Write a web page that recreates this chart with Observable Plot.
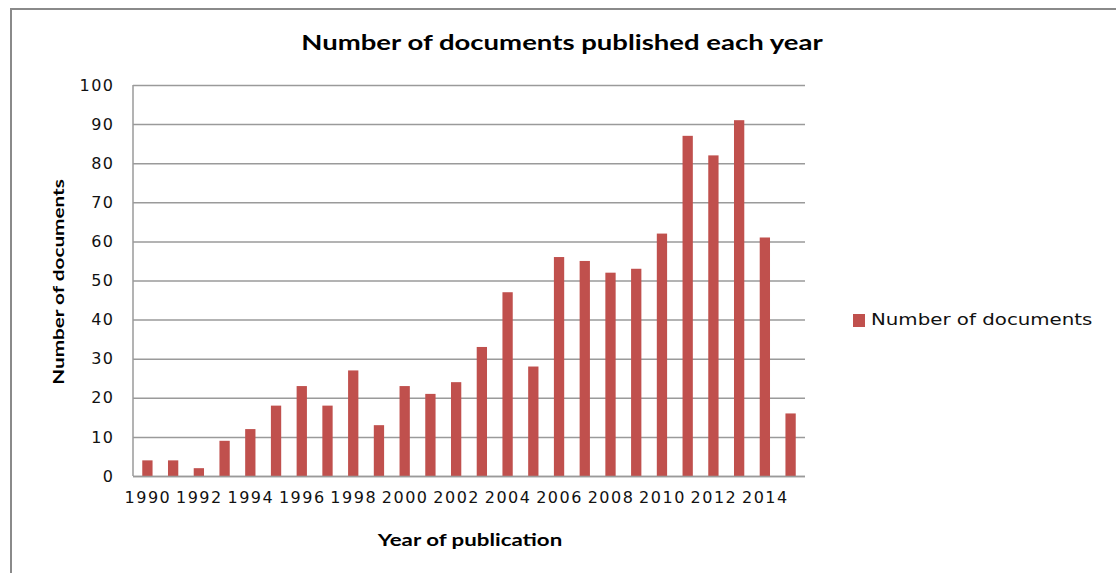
<!DOCTYPE html>
<html>
<head>
<meta charset="utf-8">
<script src="https://cdn.jsdelivr.net/npm/d3@7"></script>
<script src="https://cdn.jsdelivr.net/npm/@observablehq/plot@0.6"></script>
<style>
  html, body { margin: 0; padding: 0; background: #fff; }
  #wrap { position: relative; width: 1116px; height: 573px; overflow: hidden; }
  #frame { position: absolute; left: 10px; top: 8px; width: 1200px; height: 700px;
           border-top: 2px solid #8a8a8a; border-left: 2px solid #8a8a8a; box-sizing: border-box; }
  .txt { position: absolute; white-space: nowrap; color: #000; line-height: 1; }
  #title { left: 562px; top: 41px; transform: translate(-50%, -50%) scaleX(1.31);
           font: bold 21px Lato, "Open Sans", sans-serif; }
  #ylab { left: 58px; top: 282px; transform: translate(-50%, -50%) rotate(-90deg) scaleX(1.38);
          font: bold 15px Lato, "Open Sans", sans-serif; }
  #xlab { left: 470px; top: 539px; transform: translate(-50%, -50%) scaleX(1.31);
          font: bold 17px Lato, "Open Sans", sans-serif; }
  #legend { position: absolute; left: 853px; top: 313px; display: flex; align-items: center; }
  #legend .sw { width: 12px; height: 13px; background: #c0504d; margin-right: 6px; flex: none; }
  #legend span { display: inline-block; transform: scaleX(1.32); transform-origin: left center;
                 font: 15px "DejaVu Sans", Verdana, sans-serif; color: #111; white-space: nowrap; line-height: 1; }
  #chart { position: absolute; left: 0; top: 0; }
</style>
</head>
<body>
<div id="wrap">
  <div id="frame"></div>
  <div id="chart"></div>
  <div id="title" class="txt">Number of documents published each year</div>
  <div id="ylab" class="txt">Number of documents</div>
  <div id="xlab" class="txt">Year of publication</div>
  <div id="legend"><div class="sw"></div><span>Number of documents</span></div>
</div>
<script>
const years = [1990,1991,1992,1993,1994,1995,1996,1997,1998,1999,2000,2001,2002,2003,2004,2005,2006,2007,2008,2009,2010,2011,2012,2013,2014,2015];
const counts = [4,4,2,9,12,18,23,18,27,13,23,21,24,33,47,28,56,55,52,53,62,87,82,91,61,16];
const yTicks = [0,10,20,30,40,50,60,70,80,90,100];
const xLabelYears = [1990,1992,1994,1996,1998,2000,2002,2004,2006,2008,2010,2012,2014];

const data = years.map((y, i) => ({year: y, count: counts[i]}));

const chart = Plot.plot({
  width: 1116,
  height: 573,
  marginLeft: 133,
  marginRight: 311,
  marginTop: 85,
  marginBottom: 97,
  style: {background: "transparent", fontFamily: "'DejaVu Sans', Verdana, sans-serif", fontSize: "16px", color: "#111", letterSpacing: "1.5px"},
  x: {type: "band", domain: years, paddingInner: 0.6, paddingOuter: 0.36, round: false, label: null},
  y: {domain: [0, 100], label: null},
  marks: [
    Plot.gridY(yTicks, {stroke: "#9a9a9a", strokeOpacity: 1, strokeWidth: 1.5}),
    Plot.barY(data, {x: "year", y: "count", fill: "#c0504d"}),
    Plot.axisY(yTicks, {tickSize: 0, tickPadding: 19, label: null, fontSize: 16, fill: "#111"}),
    Plot.axisX(years, {tickSize: 0, tickPadding: 15, label: null, fontSize: 16, fill: "#111",
      tickFormat: d => xLabelYears.includes(d) ? String(d) : ""}),
    Plot.ruleY([0], {stroke: "#9a9a9a", strokeWidth: 1.5})
  ]
});
document.getElementById("chart").appendChild(chart);
// left axis line, drawn through the chart's own y scale
const sy = chart.scale("y");
d3.select(chart).append("line")
  .attr("x1", 133).attr("x2", 133)
  .attr("y1", sy.apply(yTicks[yTicks.length - 1])).attr("y2", sy.apply(yTicks[0]))
  .attr("stroke", "#9a9a9a").attr("stroke-width", 1.5);
</script>
</body>
</html>
